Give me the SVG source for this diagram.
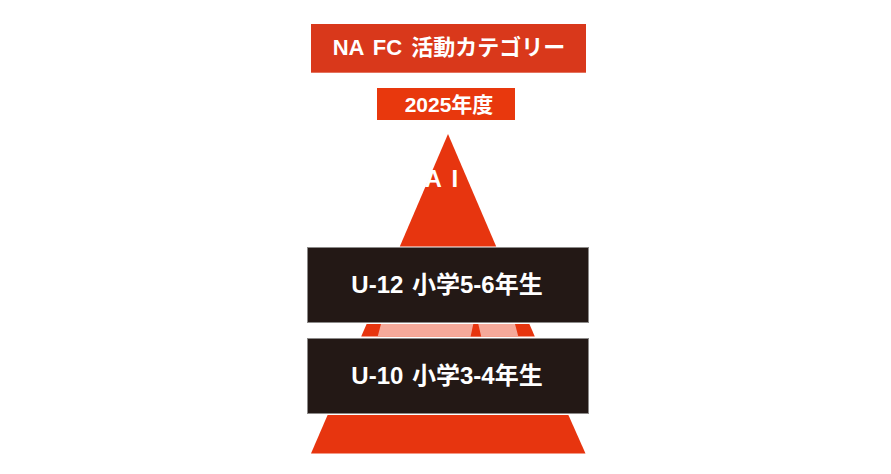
<svg xmlns="http://www.w3.org/2000/svg" width="891" height="474" viewBox="0 0 891 474">
<style>
.t{font-family:"Liberation Sans","Noto Sans CJK JP",sans-serif;font-weight:bold;fill:#ffffff;text-anchor:middle}
.red{fill:#E7350F}
.box{fill:#231815;stroke:#8C8A89;stroke-width:1}
</style>
<rect width="891" height="474" fill="#ffffff"/>
<g id="title">
<rect x="311" y="24" width="275" height="48.7" fill="#D9381B"/>
<text class="t" x="449" y="55" font-size="22" word-spacing="3">NA FC 活動カテゴリー</text>
</g>
<g id="year">
<rect x="377" y="88" width="138" height="32" fill="#E8380D"/>
<text class="t" x="449" y="112" font-size="21">2025年度</text>
</g>
<g id="pyramid-top">
<polygon class="red" points="448,134 496.2,246.6 399.8,246.6"/>
<text class="t" x="424.5" y="186.5" font-size="24" word-spacing="4" style="text-anchor:start">A I</text>
</g>
<g id="pyramid-band">
<polygon class="red" points="366.6,324 529.4,324 534.8,336.5 361.2,336.5"/>
<polygon fill="#F5A99A" points="381,324 515,324 518.3,336.5 377.7,336.5"/>
<polygon class="red" points="473.3,324 478.3,324 481.2,336.5 470.6,336.5"/>
</g>
<g id="pyramid-base">
<polygon class="red" points="327.6,415 568.4,415 585.5,453.5 311,453.5"/>
</g>
<g id="u12">
<rect class="box" x="307.5" y="247.5" width="281" height="75"/>
<text class="t" x="447" y="293" font-size="24" word-spacing="2">U-12 小学5-6年生</text>
</g>
<g id="u10">
<rect class="box" x="307.5" y="338.5" width="281" height="75"/>
<text class="t" x="447" y="384" font-size="24" word-spacing="2">U-10 小学3-4年生</text>
</g>
<g id="connectors"></g>
</svg>
